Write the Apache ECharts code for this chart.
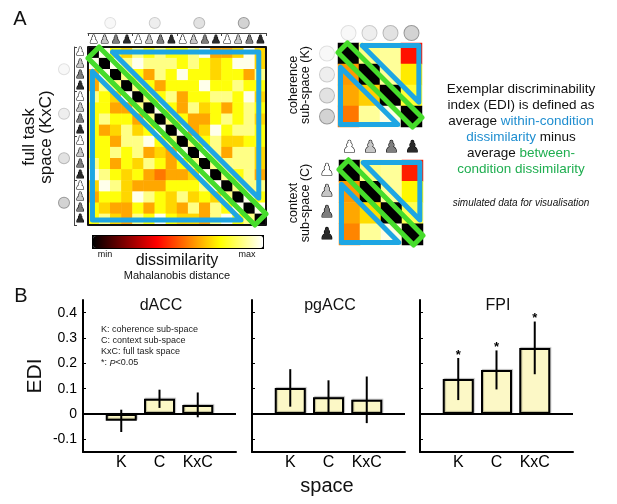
<!DOCTYPE html>
<html>
<head>
<meta charset="UTF-8">
<title>EDI</title>
<script src="https://cdn.jsdelivr.net/npm/echarts@6/dist/echarts.min.js"></script>
<style>
html, body { margin: 0; padding: 0; background: #fff; }
#main { width: 617px; height: 504px; }
</style>
</head>
<body>
<div id="main"></div>
<script>
var FONT = '"Liberation Sans", Arial, Helvetica, sans-serif';
var PAWN_FONT = '"DejaVu Sans", sans-serif';

// simulated dissimilarity, 0 = min, 1 = max (rows top to bottom)
var fullMatrix = [
  [0, .98, .76, .69, .88, .76, .88, .76, .76, .88, .98, .62, .62, .69, .98, .69],
  [.98, 0, .98, .88, .98, .88, .88, .88, .76, .88, .76, .69, .76, .98, .98, .69],
  [.62, .98, 0, .88, .76, .62, .88, .76, .98, .76, .76, .69, .76, .76, .62, .88],
  [.62, .88, .88, 0, .88, .76, .62, .76, .76, .76, .98, .76, .76, .88, .76, .76],
  [.88, .76, .69, .98, 0, .88, .76, .88, .62, .76, .76, .88, .88, .76, .98, .69],
  [.76, .76, .62, .62, .88, 0, .98, .76, .62, .88, .69, .76, .62, .76, .88, .76],
  [.76, .88, .76, .76, .62, .88, 0, .88, .76, .62, .62, .76, .88, .76, .88, .69],
  [.76, .62, .69, .88, .69, .76, .98, 0, .98, .62, .69, .98, .76, .88, .88, .76],
  [.76, .76, .62, .88, .88, .98, .76, .88, 0, .88, .76, .88, .69, .69, .76, .76],
  [.76, .76, .88, .76, .88, .62, .69, .62, .98, 0, .98, .88, .62, .88, .88, .69],
  [.88, .76, .62, .76, .69, .88, .76, .62, .76, .88, 0, .88, .88, .88, .88, .69],
  [.98, .88, .76, .69, .76, .62, .55, .62, .62, .69, .98, 0, .88, .76, .88, .62],
  [.69, .98, .88, .69, .62, .62, .62, .76, .76, .76, .88, .98, 0, .88, .88, .88],
  [.62, .76, .76, .69, .98, .88, .76, .69, .88, .69, .76, .69, .88, 0, .98, .76],
  [.76, .69, .62, .62, .76, .62, .76, .69, .62, .88, .62, .88, .76, .98, 0, .98],
  [.76, .88, .69, .62, .88, .76, .98, .76, .69, .69, .62, .88, .98, .76, .88, 0]
];
var coherenceMatrix = [
  [0, .88, .90, .40],
  [.60, 0, .90, .72],
  [.62, .68, 0, .80],
  [.55, .90, .97, 0]
];
var contextMatrix = [
  [0, .88, .90, .42],
  [.60, 0, .90, .74],
  [.62, .70, 0, .83],
  [.57, .90, .97, 0]
];

var spaces = ['K', 'C', 'KxC'];
var dACCMean = [-0.027, 0.060, 0.036];
var dACCErr = [0.044, 0.036, 0.049];
var dACCSig = [0, 0, 0];
var pgACCMean = [0.103, 0.066, 0.056];
var pgACCErr = [0.074, 0.067, 0.092];
var pgACCSig = [0, 0, 0];
var FPIMean = [0.138, 0.174, 0.261];
var FPIErr = [0.083, 0.077, 0.104];
var FPISig = [1, 1, 1];
var ediTicks = [-0.1, 0, 0.1, 0.2, 0.3, 0.4];

var hot = ['#000000', '#550000', '#aa0000', '#ff0000', '#ff5500', '#ffaa00', '#ffff00', '#ffff80', '#ffffff'];
var BLUE = '#1ea6e3', GREEN = '#46dc2b';

function toCells(m) {
  var out = [];
  for (var r = 0; r < m.length; r++)
    for (var c = 0; c < m[r].length; c++) out.push([c, r, m[r][c]]);
  return out;
}
function idx(n) { var a = []; for (var i = 0; i < n; i++) a.push(i); return a; }

var pawnFill = ['#ffffff', '#c6c6c6', '#7e7e7e', '#2a2a2a'];
function pawnRich(size, edge) {
  var r = {};
  for (var i = 0; i < 4; i++) {
    r['p' + i] = { fontSize: size, fontFamily: PAWN_FONT, color: pawnFill[i],
      textBorderColor: '#000', textBorderWidth: edge, lineHeight: size };
  }
  return r;
}
var dotFill = ['#f8f8f8', '#eeeeee', '#e2e2e2', '#d3d3d3'];
var dotEdge = ['#e0e0e0', '#cccccc', '#b8b8b8', '#999999'];
function dotRich(d) {
  var r = {};
  for (var i = 0; i < 4; i++) {
    r['c' + i] = { width: d, height: d, borderRadius: d / 2, backgroundColor: dotFill[i],
      borderColor: dotEdge[i], borderWidth: 1, fontSize: 1 };
  }
  return r;
}
function pawnLabel(v, i) { return '{p' + (i % 4) + '|\u265F}'; }
function dotLabel(v, i) { return '{c' + (i % 4) + '| }'; }

function catAxis(grid, n, pos, opts) {
  return {
    gridIndex: grid, type: 'category', data: idx(n), position: pos, offset: opts.offset || 0,
    inverse: pos === 'left', boundaryGap: true,
    axisLine: { show: !!opts.line, lineStyle: { color: '#444', width: 1 } },
    axisTick: { show: !!opts.line, inside: true, length: 3, lineStyle: { color: '#444' } },
    splitLine: { show: false },
    axisLabel: { interval: 0, margin: opts.margin, formatter: opts.fmt, rich: opts.rich }
  };
}
function hiddenAxis(grid, n, inv) {
  return { gridIndex: grid, type: 'value', min: 0, max: n, show: false, inverse: !!inv };
}

var grids = [
  { left: 88, top: 47, width: 178, height: 178 },
  { left: 88, top: 47, width: 178, height: 178 },
  { left: 338, top: 43, width: 84, height: 84 },
  { left: 338, top: 43, width: 84, height: 84 },
  { left: 339, top: 160, width: 84, height: 85 },
  { left: 339, top: 160, width: 84, height: 85 }
];
var xAxes = [
  catAxis(0, 16, 'top', { margin: 1, fmt: pawnLabel, rich: pawnRich(11, 1.1) }),
  catAxis(0, 4, 'top', { offset: 14, line: true, margin: 5, fmt: dotLabel, rich: dotRich(10) }),
  hiddenAxis(1, 16),
  catAxis(2, 4, 'top', { margin: 3, fmt: dotLabel, rich: dotRich(14) }),
  hiddenAxis(3, 4),
  catAxis(4, 4, 'top', { margin: 4, fmt: pawnLabel, rich: pawnRich(16, 1.2) }),
  hiddenAxis(5, 4)
];
var yAxes = [
  catAxis(0, 16, 'left', { margin: 3, fmt: pawnLabel, rich: pawnRich(11, 1.1) }),
  catAxis(0, 4, 'left', { offset: 14, line: true, margin: 5, fmt: dotLabel, rich: dotRich(10) }),
  hiddenAxis(1, 16, true),
  catAxis(2, 4, 'left', { margin: 4, fmt: dotLabel, rich: dotRich(14) }),
  hiddenAxis(3, 4, true),
  catAxis(4, 4, 'left', { margin: 5, fmt: pawnLabel, rich: pawnRich(16, 1.2) }),
  hiddenAxis(5, 4, true)
];

function heat(ax, m) {
  return { type: 'heatmap', xAxisIndex: ax, yAxisIndex: ax, data: toCells(m),
    itemStyle: { borderWidth: 0 }, emphasis: { disabled: true }, silent: true, progressive: 0 };
}
function outline(ax, pts, color, width, z) {
  return { type: 'line', xAxisIndex: ax, yAxisIndex: ax, data: pts.concat([pts[0]]),
    symbol: 'none', showSymbol: false, silent: true, clip: false, z: z,
    lineStyle: { color: color, width: width, join: 'round', cap: 'round' } };
}

// outline shapes, in cell units of each matrix
var bigUpper = [[2.2, 0.45], [15.35, 0.45], [15.35, 13.6]];
var bigLower = [[0.4, 2.2], [0.4, 15.55], [13.75, 15.55]];
var bigBand = [[1, 0], [16, 15], [15, 16], [0, 1]];
var bigFrame = [[0, 0], [16, 0], [16, 16], [0, 16]];
var smallUpper = [[1.15, 0.12], [3.85, 0.12], [3.85, 2.82]];
var smallLower = [[0.12, 1.15], [0.12, 3.88], [2.85, 3.88]];
var smallBand = [[0.45, 0], [4, 3.55], [3.55, 4], [0, 0.45]];

var series = [
  heat(0, fullMatrix),
  heat(3, coherenceMatrix),
  heat(5, contextMatrix),
  outline(2, bigFrame, '#111', 2, 5),
  outline(2, bigUpper, BLUE, 5, 6),
  outline(2, bigLower, BLUE, 5, 6),
  outline(2, bigBand, GREEN, 5, 7),
  outline(4, smallUpper, BLUE, 5, 6),
  outline(4, smallLower, BLUE, 5, 6),
  outline(4, smallBand, GREEN, 5, 7),
  outline(6, smallUpper, BLUE, 5, 6),
  outline(6, smallLower, BLUE, 5, 6),
  outline(6, smallBand, GREEN, 5, 7)
];

function renderErr(params, api) {
  var x = api.value(0), m = api.value(1), e = api.value(2), s = api.value(3);
  var top = api.coord([x, m + e]), bot = api.coord([x, m - e]);
  var kids = [{ type: 'line', shape: { x1: top[0], y1: top[1], x2: bot[0], y2: bot[1] },
    style: { stroke: '#000', lineWidth: 2 } }];
  if (s) {
    kids.push({ type: 'text', style: { text: '*', x: top[0], y: top[1] - 3, align: 'center',
      verticalAlign: 'middle', font: 'bold 13px ' + FONT, fill: '#000' } });
  }
  return { type: 'group', children: kids };
}

var panels = [
  { name: 'dACC', left: 83, mean: dACCMean, err: dACCErr, sig: dACCSig, labels: true },
  { name: 'pgACC', left: 252, mean: pgACCMean, err: pgACCErr, sig: pgACCSig, labels: false },
  { name: 'FPI', left: 420, mean: FPIMean, err: FPIErr, sig: FPISig, labels: false }
];

var texts = [];
function label(text, x, y, size, o) {
  o = o || {};
  texts.push({ type: 'text', x: x, y: y, rotation: o.rot || 0, silent: true, z: 100,
    style: { text: text, x: 0, y: 0, align: o.align || 'center', verticalAlign: 'middle',
      font: (o.style || '') + ' ' + size + 'px ' + FONT, fill: o.color || '#111',
      lineHeight: o.lh, rich: o.rich } });
}

panels.forEach(function (p) {
  var g = grids.length;
  var ax = xAxes.length;
  grids.push({ left: p.left, top: 300, width: 153, height: 152 });
  xAxes.push({ gridIndex: g, type: 'category', data: [''].concat(spaces, ['']), boundaryGap: false,
    axisLine: { onZero: false, lineStyle: { color: '#000', width: 2 } }, axisTick: { show: false },
    splitLine: { show: false },
    axisLabel: { interval: 0, margin: 3, fontSize: 16, color: '#000', fontFamily: FONT } });
  yAxes.push({ gridIndex: g, type: 'value', min: -0.15, max: 0.45,
    axisLine: { show: true, lineStyle: { color: '#000', width: 2 } },
    axisTick: { show: true, inside: true, length: 3, customValues: ediTicks, lineStyle: { color: '#000' } },
    axisLabel: { show: p.labels, customValues: ediTicks, margin: 6, fontSize: 14, color: '#000', fontFamily: FONT,
      formatter: function (v) { return String(Math.round(v * 10) / 10); } },
    splitLine: { show: false } });
  series.push({ type: 'bar', xAxisIndex: ax, yAxisIndex: ax,
    data: [null].concat(p.mean, [null]), barWidth: 31, silent: true,
    itemStyle: { color: '#fcf8c6', borderColor: '#000', borderWidth: 2,
      shadowColor: 'rgba(0,0,0,0.25)', shadowOffsetX: 1, shadowOffsetY: -1, shadowBlur: 1 },
    markLine: { silent: true, symbol: 'none', label: { show: false },
      lineStyle: { color: '#000', width: 2, type: 'solid' }, data: [{ yAxis: 0 }] } });
  series.push({ type: 'custom', xAxisIndex: ax, yAxisIndex: ax, z: 5, silent: true,
    renderItem: renderErr,
    data: p.mean.map(function (m, i) { return [i + 1, m, p.err[i], p.sig[i]]; }) });
  label(p.name, p.left + 78, 306, 16);
});

grids.forEach(function (g) { g.outerBoundsMode = 'none'; g.containLabel = false; });

label('A', 20, 19, 20);
label('B', 21, 296, 20);
label('full task\nspace (KxC)', 38, 137, 17, { rot: Math.PI / 2, lh: 17 });
label('coherence\nsub-space (K)', 300, 85, 12.5, { rot: Math.PI / 2, lh: 12 });
label('context\nsub-space (C)', 300, 203, 12.5, { rot: Math.PI / 2, lh: 12 });
label('min', 105, 255, 9);
label('max', 247, 255, 9);
label('dissimilarity', 177, 261, 16);
label('Mahalanobis distance', 177, 276, 11);
var para = { fontSize: 13.5, fontFamily: FONT, lineHeight: 16 };
label('Exemplar discriminability\nindex (EDI) is defined as\naverage {b|within-condition}\n{b|dissimilarity} minus\naverage {g|between-}\n{g|condition dissimilarity}',
  521, 129, 13.5, { lh: 16, rich: {
    b: Object.assign({ fill: '#1f8ed0' }, para),
    g: Object.assign({ fill: '#1fae50' }, para) } });
label('simulated data for visualisation', 521, 203, 10, { style: 'italic' });
label('K: coherence sub-space', 101, 330, 9, { align: 'left', color: '#222' });
label('C: context sub-space', 101, 341, 9, { align: 'left', color: '#222' });
label('KxC: full task space', 101, 352, 9, { align: 'left', color: '#222' });
label('*: {i|P}<0.05', 101, 363, 9, { align: 'left', color: '#222',
  rich: { i: { fontStyle: 'italic', fontSize: 9, fontFamily: FONT, fill: '#222' } } });
label('EDI', 35, 376, 21, { rot: Math.PI / 2 });
label('space', 327, 486, 20);

var myChart = echarts.init(document.getElementById('main'), null, { renderer: 'canvas' });
myChart.setOption({
  animation: false,
  backgroundColor: '#fff',
  grid: grids,
  xAxis: xAxes,
  yAxis: yAxes,
  visualMap: {
    type: 'continuous', min: 0, max: 1, seriesIndex: [0, 1, 2], calculable: false,
    orient: 'horizontal', left: 92, top: 235, itemWidth: 12, itemHeight: 170,
    padding: 0, borderColor: '#000', borderWidth: 2, hoverLink: false,
    inRange: { color: hot }
  },
  series: series,
  graphic: { elements: texts }
});
</script>
</body>
</html>
